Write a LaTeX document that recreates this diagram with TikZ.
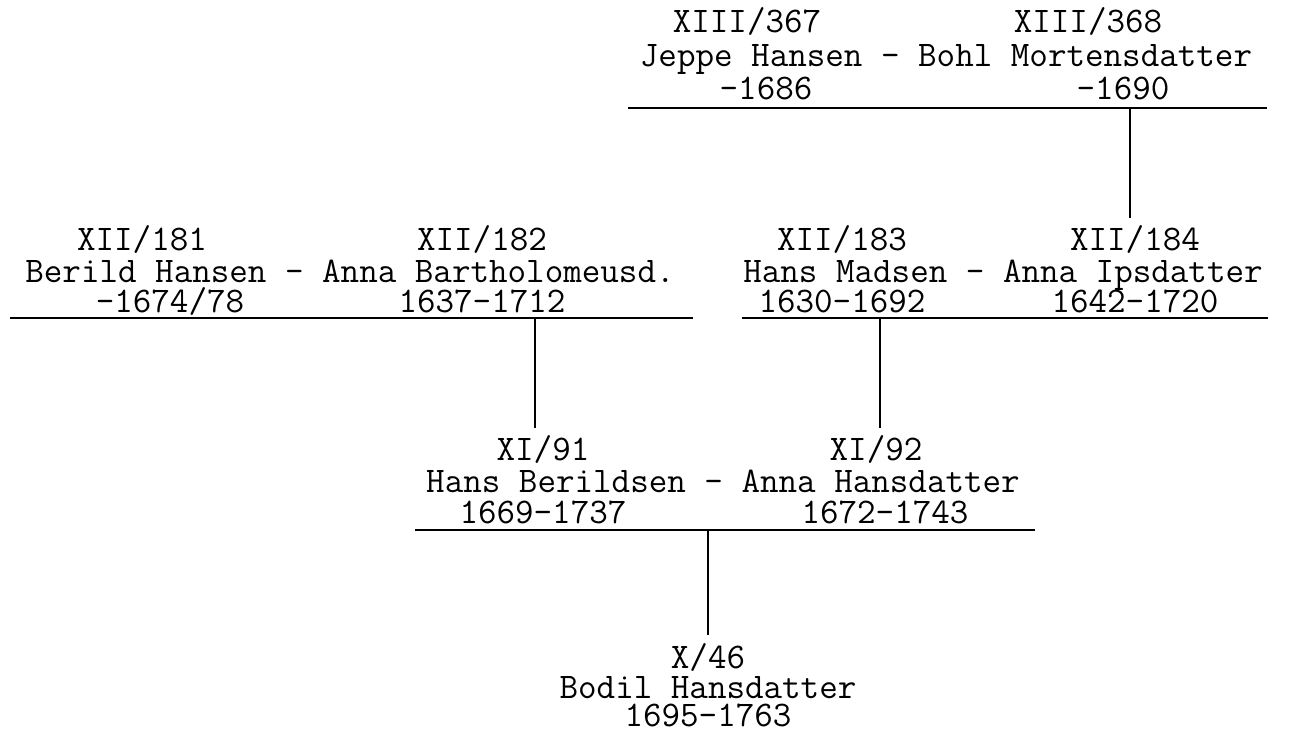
\documentclass[tikz,border=0pt]{standalone}
\usepackage{fontspec}
\begin{document}
\begin{tikzpicture}[x=0.02cm, y=-0.02cm,
    every node/.style={font=\ttfamily\fontsize{20.5}{24}\selectfont, inner sep=0pt,
        text height=12.5pt, text depth=0pt, anchor=base}]
    \useasboundingbox (0,0) rectangle (1289,729);
    % generation XIII
    \node (id367) at (747,33) {XIII/367};
    \node (id368) at (1088,33) {XIII/368};
    \node (nm13) at (946,67) {Jeppe Hansen - Bohl Mortensdatter};
    \node (dt367) at (766,100) {-1686};
    \node (dt368) at (1123,100) {-1690};
    \coordinate (a13) at (628,108);
    \coordinate (b13) at (1267,108);
    \coordinate (m13) at (1130,108);
    \draw[line width=1pt] (a13) -- (b13);
    % generation XII
    \node (id181) at (142,251) {XII/181};
    \node (id182) at (482,251) {XII/182};
    \node (nm12a) at (350,283) {Berild Hansen - Anna Bartholomeusd.};
    \node (dt181) at (170,313) {-1674/78};
    \node (dt182) at (482,313) {1637-1712};
    \coordinate (a12a) at (10,318);
    \coordinate (b12a) at (693,318);
    \coordinate (m12a) at (535,318);
    \draw[line width=1pt] (a12a) -- (b12a);
    \node (id183) at (842,251) {XII/183};
    \node (id184) at (1135,251) {XII/184};
    \node (nm12b) at (1003,283) {Hans Madsen - Anna Ipsdatter};
    \node (dt183) at (842,313) {1630-1692};
    \node (dt184) at (1135,313) {1642-1720};
    \coordinate (a12b) at (742,318);
    \coordinate (b12b) at (1268,318);
    \coordinate (m12b) at (880,318);
    \draw[line width=1pt] (a12b) -- (b12b);
    \draw[line width=1pt, shorten >=6pt] (m13) -- (m13 |- id184.north);
    % generation XI
    \node (id91) at (543,461) {XI/91};
    \node (id92) at (876,461) {XI/92};
    \node (nm11) at (723,493) {Hans Berildsen - Anna Hansdatter};
    \node (dt91) at (543,524) {1669-1737};
    \node (dt92) at (885,524) {1672-1743};
    \coordinate (a11) at (415,530);
    \coordinate (b11) at (1035,530);
    \coordinate (m11) at (708,530);
    \draw[line width=1pt] (a11) -- (b11);
    \draw[line width=1pt, shorten >=6pt] (m12a) -- (m12a |- id91.north);
    \draw[line width=1pt, shorten >=6pt] (m12b) -- (m12b |- id92.north);
    % generation X
    \node (id46) at (708,668) {X/46};
    \node (nm10) at (708,698) {Bodil Hansdatter};
    \node (dt46) at (708,726) {1695-1763};
    \draw[line width=1pt, shorten >=6pt] (m11) -- (m11 |- id46.north);
\end{tikzpicture}
\end{document}
